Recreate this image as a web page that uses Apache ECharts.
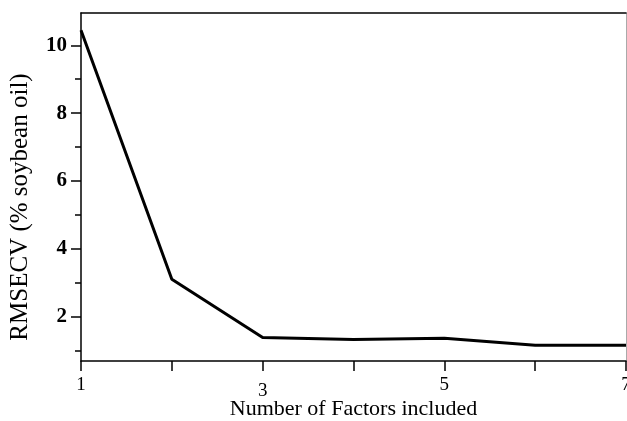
<!DOCTYPE html>
<html><head><meta charset="utf-8">
<script src="https://cdn.jsdelivr.net/npm/echarts@6/dist/echarts.min.js"></script>
<style>html,body{margin:0;padding:0;background:#fff;}#c{width:627px;height:421px;}</style>
</head><body><div id="c"></div>
<script>
const factors = [1, 2, 3, 4, 5, 6, 7];
const rmsecv = [10.44, 3.11, 1.39, 1.33, 1.37, 1.165, 1.165];
const xLabels = [1, 3, 5, 7];
const yLabels = [2, 4, 6, 8, 10];
const yMinorTicks = [1, 3, 5, 7, 9];
const xTitle = 'Number of Factors included';
const yTitle = 'RMSECV (% soybean oil)';

const serif = '"Liberation Serif", "Times New Roman", serif';
const chart = echarts.init(document.getElementById('c'));
const xPad = { 1: 0, 3: 6, 5: 0, 7: 0 };
const rich = {};
[0, 6].forEach(p => { rich['p' + p] = { fontFamily: serif, fontSize: 19, color: '#000', padding: [p, 0, 0, 0] }; });
chart.setOption({
  animation: false,
  backgroundColor: '#fff',
  grid: { left: 81, right: 1, top: 13, bottom: 60, containLabel: false, outerBoundsMode: 'none' },
  xAxis: [{
    type: 'value', min: 1, max: 7, interval: 1,
    axisLine: { lineStyle: { color: '#000', width: 1.5 } },
    axisTick: { length: 10, lineStyle: { color: '#000', width: 1.5 } },
    splitLine: { show: false },
    axisLabel: {
      color: '#000', fontFamily: serif, fontSize: 19, margin: 15,
      showMaxLabel: true, showMinLabel: true,
      formatter: v => xLabels.indexOf(v) < 0 ? '' : '{p' + xPad[v] + '|' + v + '}',
      rich: rich
    },
    name: xTitle, nameLocation: 'middle', nameGap: 37, nameMoveOverlap: false,
    nameTextStyle: { color: '#000', fontFamily: serif, fontSize: 22 }
  }, {
    type: 'value', min: 1, max: 7, position: 'top',
    axisLine: { show: true, onZero: false, lineStyle: { color: '#000', width: 1.5 } },
    axisTick: { show: false }, axisLabel: { show: false }, splitLine: { show: false }
  }],
  yAxis: [{
    type: 'value', min: 0.7, max: 10.95,
    axisLine: { show: true, lineStyle: { color: '#000', width: 1.5 } },
    axisTick: { show: true, length: 10, customValues: yLabels, lineStyle: { color: '#000', width: 1.5 } },
    minorTick: { show: false },
    splitLine: { show: false },
    axisLabel: {
      color: '#000', fontFamily: serif, fontSize: 21, fontWeight: 'bold', margin: 14,
      customValues: yLabels
    },
    name: yTitle, nameLocation: 'middle', nameGap: 48, nameRotate: 90, nameMoveOverlap: false,
    nameTextStyle: { color: '#000', fontFamily: serif, fontSize: 25, padding: [0, 0, 0, -40] }
  }, {
    type: 'value', min: 0.7, max: 10.95, position: 'left',
    axisLine: { show: false },
    axisTick: { show: true, length: 6, customValues: yMinorTicks, lineStyle: { color: '#000', width: 1.5 } },
    axisLabel: { show: false }, splitLine: { show: false }
  }, {
    type: 'value', min: 0.7, max: 10.95, position: 'right',
    axisLine: { show: true, lineStyle: { color: '#aaa', width: 1 } },
    axisTick: { show: false }, axisLabel: { show: false }, splitLine: { show: false }
  }],
  series: [{
    type: 'line',
    data: factors.map((f, i) => [f, rmsecv[i]]),
    showSymbol: false,
    lineStyle: { color: '#000', width: 3 },
    clip: false
  }]
});
</script></body></html>
